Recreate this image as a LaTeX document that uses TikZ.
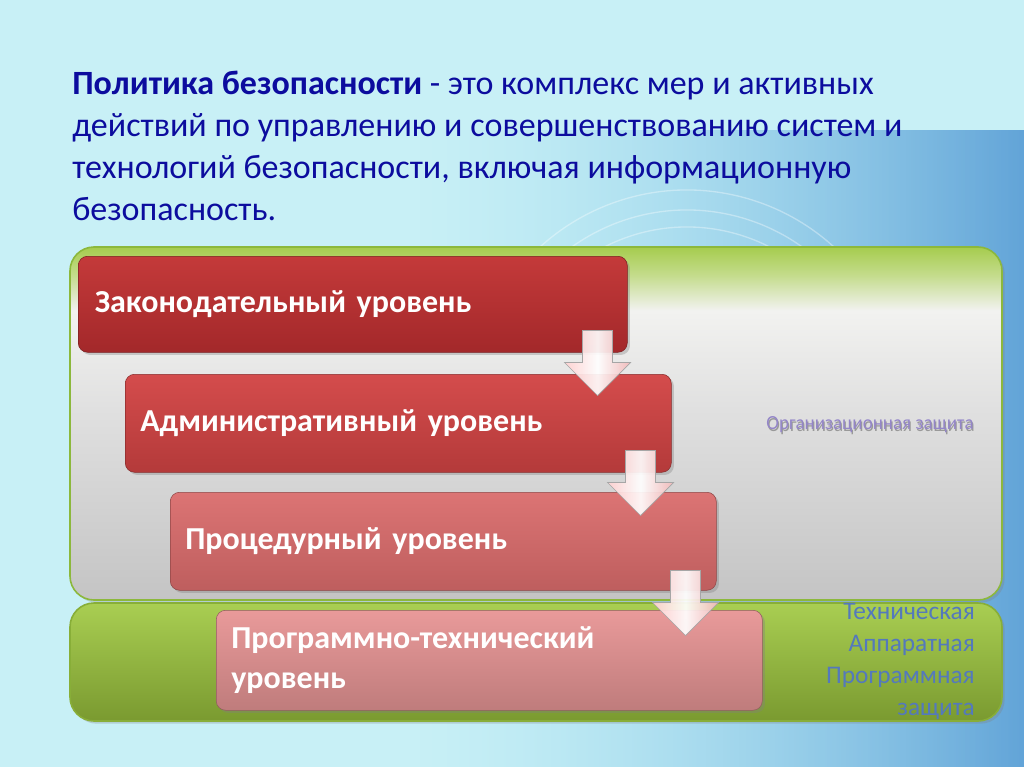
\documentclass[tikz,border=0pt]{standalone}
\usepackage{fontspec}
\setmainfont{Carlito}
\usetikzlibrary{shadows,fadings,calc}
\definecolor{bgcyan}{HTML}{C8F0F6}
\definecolor{bgmid}{HTML}{9EDCF0}
\definecolor{bgblue}{HTML}{62A4D8}
\definecolor{navy}{HTML}{0C0C9E}
\definecolor{pggreen}{HTML}{A6CC4E}
\definecolor{pggreenl}{HTML}{C4DC8C}
\definecolor{pgwhite}{HTML}{F2F2F0}
\definecolor{pgmid}{HTML}{E0E0E0}
\definecolor{pgbot}{HTML}{C4C4C4}
\definecolor{pgline}{HTML}{8CB83C}
\definecolor{grtop}{HTML}{A9CE52}
\definecolor{grbot}{HTML}{7A9A30}
\definecolor{grline}{HTML}{88AE38}
\definecolor{orgtext}{HTML}{9486C8}
\definecolor{techtext}{HTML}{5479BC}
\definecolor{boxAt}{HTML}{C43A3A}
\definecolor{boxAb}{HTML}{A3282A}
\definecolor{boxBt}{HTML}{D44C4C}
\definecolor{boxBb}{HTML}{B43A3A}
\definecolor{boxCt}{HTML}{DC7474}
\definecolor{boxCb}{HTML}{BE5E5E}
\definecolor{boxDt}{HTML}{E99A9A}
\definecolor{boxDb}{HTML}{BF7C7C}
\pgfdeclareverticalshading{orgshade}{100bp}{color(0bp)=(pgbot); color(25bp)=(pgbot); color(52bp)=(pgmid); color(66bp)=(pgwhite); color(71bp)=(pggreenl); color(75bp)=(pggreen); color(100bp)=(pggreen)}
\tikzfading[name=fadeleft, left color=transparent!100, right color=transparent!0]
\newdimen\pxu \pxu=0.75pt
\tikzset{
  levelbox/.style={draw=#1!75!black, rounded corners=7, anchor=north west,
    minimum width=546\pxu, minimum height=98\pxu, text width=516\pxu,
    inner xsep=15\pxu, align=left, text=white, font=\fontsize{24}{30}\selectfont\bfseries,
    drop shadow={shadow xshift=2pt, shadow yshift=-2pt, opacity=0.35}},
  blockarr/.style={draw=black!35, line width=0.5pt, left color=red!18!white,
    right color=red!25!white!90!gray, middle color=white, fill opacity=0.92},
  panelshadow/.style={drop shadow={shadow xshift=2pt, shadow yshift=-2pt, opacity=0.3}}
}
\begin{document}
\begin{tikzpicture}[x=0.75pt, y=-0.75pt]
\useasboundingbox (0,0) rectangle (1024,767);
% background
\fill[bgcyan] (0,0) rectangle (1024,767);
\shade[left color=bgmid, right color=bgblue, path fading=fadeleft] (420,130) rectangle (1024,767);
\foreach \r in {181,198,218}
  \draw[white, opacity=0.35, line width=1pt] (687,408) ++(195:\r) arc[start angle=195, end angle=330, radius=\r];

% header text
\node[anchor=north west, inner sep=0, align=left, text=navy,
      font=\fontsize{25.5}{31.5}\selectfont] (head) at (72,71)
 {\textbf{Политика безопасности} - это комплекс мер и активных\\
  действий по управлению и совершенствованию систем и\\
  технологий безопасности, включая информационную\\
  безопасность.};

% panels
\shade[shading=orgshade, draw=pgline, line width=1.2pt, rounded corners=18, panelshadow] (70,247) rectangle (1002,600);
\shade[top color=grtop, bottom color=grbot, draw=grline, line width=1.2pt, rounded corners=18, panelshadow] (70,603) rectangle (1002,721);

\node[text=black!40, font=\fontsize{15}{18}\selectfont, xscale=0.95] at (871,427) {Организационная защита};
\node[text=orgtext, font=\fontsize{15}{18}\selectfont, xscale=0.95] (org) at (870,425) {Организационная защита};

\node[anchor=north east, inner sep=0, align=right, text=techtext,
      font=\fontsize{19}{24}\selectfont] (tech) at (975,603)
 {Техническая\\Аппаратная\\Программная\\защита};

% level boxes
\node[levelbox=boxAb, minimum width=549\pxu, minimum height=96\pxu, top color=boxAt, bottom color=boxAb] (b1) at (78,256) {Законодательный уровень};
\node[levelbox=boxBb, top color=boxBt, bottom color=boxBb] (b2) at (125,374) {Административный уровень};
\node[levelbox=boxCb, top color=boxCt, bottom color=boxCb] (b3) at (170,492) {Процедурный уровень};
\node[levelbox=boxDb, minimum height=100\pxu, top color=boxDt, bottom color=boxDb] (b4) at (216,610) {Программно-технический\\уровень};

% block arrows
\coordinate (a1) at ($(b1.south east)+(-30,-22)$);
\coordinate (a2) at ($(b2.south east)+(-31,-22)$);
\coordinate (a3) at ($(b3.south east)+(-31,-20)$);
\foreach \a in {a1,a2,a3}{
  \begin{scope}[shift={(\a)}]
    \shade[blockarr] (-15,0) -- (15,0) -- (15,32) -- (33,32) -- (0,65) -- (-33,32) -- (-15,32) -- cycle;
  \end{scope}
}
\end{tikzpicture}
\end{document}
